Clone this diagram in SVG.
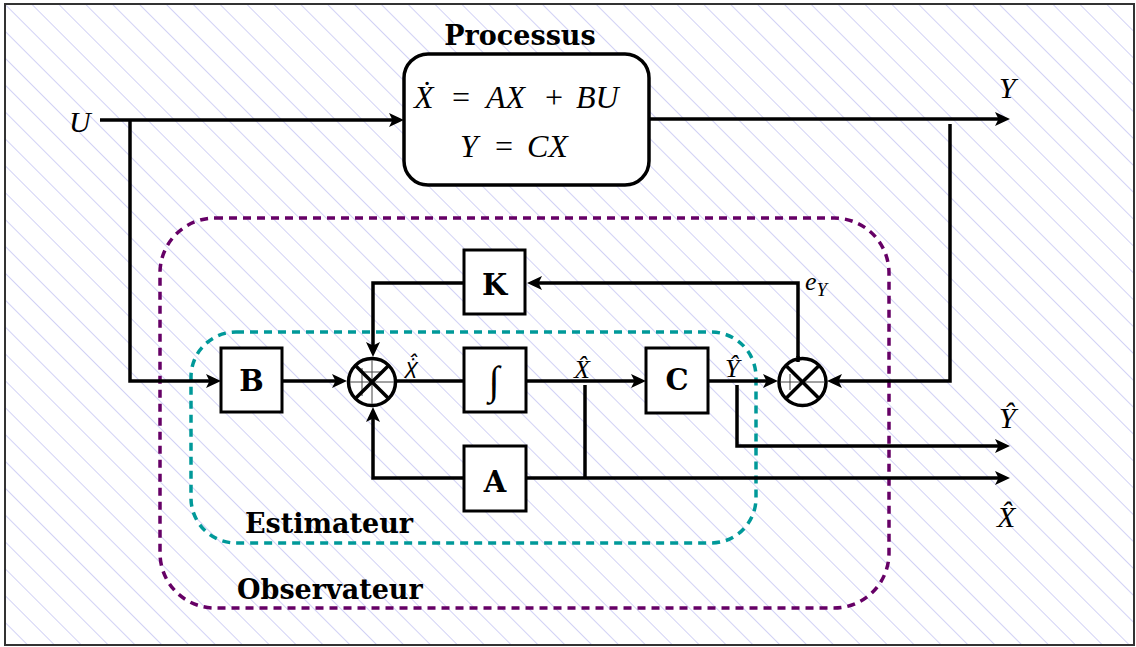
<svg xmlns="http://www.w3.org/2000/svg" width="1136" height="647" viewBox="0 0 1136 647">
<style>
.ln{fill:none;stroke:#000;stroke-width:3.5;stroke-linejoin:miter}
.box{fill:#fff;stroke:#000;stroke-width:3}
.bl{font-family:"DejaVu Serif","Liberation Serif",serif;font-weight:bold;fill:#000}
.m{font-family:"Liberation Serif",serif;font-style:italic;fill:#000}
.ns{font-family:"Noto Sans",sans-serif;font-style:italic;fill:#000}
.r{font-style:normal}
.thin{stroke:#444;stroke-width:1}
</style>
<defs>
<pattern id="hatch" patternUnits="userSpaceOnUse" width="19" height="19" patternTransform="rotate(-45)">
<line x1="0" y1="0" x2="0" y2="19" stroke="#b4b4ee" stroke-width="1.2"/>
</pattern>
<marker id="arr" markerUnits="userSpaceOnUse" viewBox="-1 -8 17 16" markerWidth="17" markerHeight="16" refX="5" refY="0" orient="auto">
<path d="M0,-7 L15,0 L0,7 L3.5,0 z" fill="#000"/>
</marker>
</defs>
<rect x="5" y="4" width="1129" height="641" fill="#fff"/>
<rect x="5" y="4" width="1129" height="641" fill="url(#hatch)" stroke="#333" stroke-width="2"/>

<g id="observateur">
<rect x="160" y="218" width="729" height="390" rx="55" ry="55" fill="none" stroke="#660066" stroke-width="3.5" stroke-dasharray="8,6"/>
<text class="bl" x="237" y="599" font-size="27">Observateur</text>
</g>
<g id="estimateur">
<rect x="191" y="332" width="565" height="211" rx="45" ry="45" fill="none" stroke="#009999" stroke-width="3.5" stroke-dasharray="8,6"/>
<text class="bl" x="245" y="533" font-size="27">Estimateur</text>
</g>

<g id="connectors">
<path class="ln" d="M100,120 H394" marker-end="url(#arr)"/>
<path class="ln" d="M130,120 V381 H211" marker-end="url(#arr)"/>
<path class="ln" d="M283,381 H337" marker-end="url(#arr)"/>
<path class="ln" d="M397,381 H463"/>
<path class="ln" d="M527,381 H636" marker-end="url(#arr)"/>
<path class="ln" d="M708,381 H768" marker-end="url(#arr)"/>
<path class="ln" d="M585,385 V478"/>
<path class="ln" d="M737,385 V446 H1000" marker-end="url(#arr)"/>
<path class="ln" d="M526,478 H1000" marker-end="url(#arr)"/>
<path class="ln" d="M463,478 H373 V417" marker-end="url(#arr)"/>
<path class="ln" d="M798,357 V283 H537" marker-end="url(#arr)"/>
<path class="ln" d="M463,283 H373 V347" marker-end="url(#arr)"/>
<path class="ln" d="M650,119 H1000" marker-end="url(#arr)"/>
<path class="ln" d="M950,124 V381 H837" marker-end="url(#arr)"/>
</g>

<g id="processus">
<rect x="404" y="54" width="245" height="131" rx="24" ry="24" fill="#fff" stroke="#000" stroke-width="3.5"/>
<text class="bl" x="520" y="45" font-size="27" text-anchor="middle">Processus</text>
<text class="m" y="108" font-size="32"><tspan x="414">Ẋ</tspan><tspan class="r" x="452">=</tspan><tspan x="486">AX</tspan><tspan class="r" x="545">+</tspan><tspan x="576">BU</tspan></text>
<text class="m" y="157" font-size="32"><tspan x="460">Y</tspan><tspan class="r" x="495">=</tspan><tspan x="527">CX</tspan></text>
</g>

<g id="B"><rect class="box" x="221" y="348" width="61" height="64"/><text class="bl" x="251.5" y="391" font-size="29" text-anchor="middle">B</text></g>
<g id="integrale"><rect class="box" x="464" y="348" width="62" height="64"/><text class="m" x="494" y="394" font-size="40" text-anchor="middle">∫</text></g>
<g id="C"><rect class="box" x="646" y="348" width="62" height="65"/><text class="bl" x="677" y="390" font-size="29" text-anchor="middle">C</text></g>
<g id="K"><rect class="box" x="464" y="250" width="61" height="64"/><text class="bl" x="494.5" y="295" font-size="29" text-anchor="middle">K</text></g>
<g id="A"><rect class="box" x="464" y="446" width="62" height="65"/><text class="bl" x="495" y="492" font-size="29" text-anchor="middle">A</text></g>

<g id="sommateur1">
<circle cx="372" cy="382" r="23.5" fill="#fff" stroke="#000" stroke-width="3.5"/>
<line class="thin" x1="350" y1="382" x2="394" y2="382"/>
<line class="thin" x1="372" y1="360" x2="372" y2="404"/>
<line class="thin" x1="360" y1="372" x2="384" y2="372"/>
<line class="thin" x1="362" y1="368" x2="362" y2="396"/>
<line x1="355.4" y1="365.4" x2="388.6" y2="398.6" stroke="#000" stroke-width="3.5"/>
<line x1="388.6" y1="365.4" x2="355.4" y2="398.6" stroke="#000" stroke-width="3.5"/>
</g>
<g id="sommateur2">
<circle cx="802.5" cy="382" r="23.5" fill="#fff" stroke="#000" stroke-width="3.5"/>
<line class="thin" x1="781" y1="382" x2="825" y2="382"/>
<line class="thin" x1="790" y1="374" x2="790" y2="390"/>
<line x1="785.9" y1="365.4" x2="819.1" y2="398.6" stroke="#000" stroke-width="3.5"/>
<line x1="819.1" y1="365.4" x2="785.9" y2="398.6" stroke="#000" stroke-width="3.5"/>
<line x1="798" y1="356" x2="798" y2="362" stroke="#000" stroke-width="3.5"/>
</g>

<g id="labels">
<text class="m" x="69" y="132" font-size="30">U</text>
<text class="m" x="999" y="98" font-size="30">Y</text>
<text class="m" x="999" y="428" font-size="30">Ŷ</text>
<text class="m" x="997" y="527" font-size="30">X̂</text>
<text class="ns" x="405" y="378" font-size="22">Ẋ̂</text>
<text class="m" x="574" y="378" font-size="26">X̂</text>
<text class="m" x="725" y="377" font-size="26">Ŷ</text>
<text class="m" x="805" y="290" font-size="26">e<tspan font-size="19" dy="6">Y</tspan></text>
</g>
</svg>
